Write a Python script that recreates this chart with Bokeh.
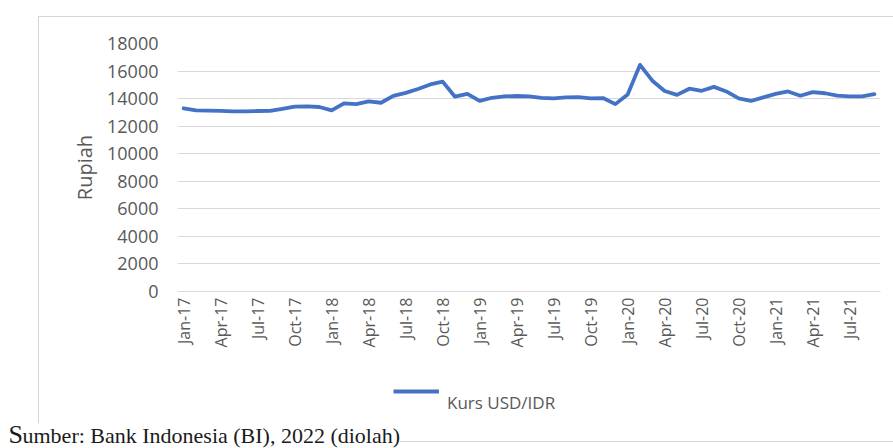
import math
from bokeh.plotting import figure
from bokeh.layouts import column
from bokeh.models import (Range1d, FixedTicker, Legend, LegendItem, Label,
                          ColumnDataSource)
from bokeh.embed import file_html
from bokeh.resources import INLINE

# ---------------- data ----------------
months = [
    "Jan-17", "Feb-17", "Mar-17", "Apr-17", "May-17", "Jun-17",
    "Jul-17", "Aug-17", "Sep-17", "Oct-17", "Nov-17", "Dec-17",
    "Jan-18", "Feb-18", "Mar-18", "Apr-18", "May-18", "Jun-18",
    "Jul-18", "Aug-18", "Sep-18", "Oct-18", "Nov-18", "Dec-18",
    "Jan-19", "Feb-19", "Mar-19", "Apr-19", "May-19", "Jun-19",
    "Jul-19", "Aug-19", "Sep-19", "Oct-19", "Nov-19", "Dec-19",
    "Jan-20", "Feb-20", "Mar-20", "Apr-20", "May-20", "Jun-20",
    "Jul-20", "Aug-20", "Sep-20", "Oct-20", "Nov-20", "Dec-20",
    "Jan-21", "Feb-21", "Mar-21", "Apr-21", "May-21", "Jun-21",
    "Jul-21", "Aug-21", "Sep-21",
]
kurs_usd_idr = [
    13300, 13150, 13130, 13110, 13080, 13080,
    13100, 13110, 13260, 13420, 13440, 13390,
    13150, 13650, 13600, 13800, 13700, 14200,
    14420, 14700, 15030, 15230, 14140, 14340,
    13830, 14060, 14160, 14190, 14160, 14060,
    14010, 14090, 14110, 14010, 14040, 13600,
    14300, 16450, 15300, 14550, 14270, 14720,
    14570, 14850, 14520, 14010, 13830, 14090,
    14340, 14520, 14210, 14470, 14390, 14210,
    14160, 14160, 14320,
]
y_ticks = [0, 2000, 4000, 6000, 8000, 10000, 12000, 14000, 16000, 18000]
label_every = 3
series_name = "Kurs USD/IDR"
y_title = "Rupiah"
note_first = "S"
note_rest = "umber: Bank Indonesia (BI), 2022 (diolah)"

LINE_COLOR = "#4472c4"
TICK_COLOR = "#595959"
GRID_COLOR = "#d9d9d9"

# ---------------- main chart ----------------
idx = list(range(len(months)))
src = ColumnDataSource(data=dict(idx=idx, kurs=kurs_usd_idr, month=months))

W = 893
H_MAIN = 356
H_FOOT = 448 - H_MAIN

p = figure(width=W, height=H_MAIN, output_backend="svg", toolbar_location=None,
           x_range=Range1d(-0.5, len(months) - 0.5),
           y_range=Range1d(y_ticks[0], y_ticks[-1]),
           min_border_left=177, min_border_right=13,
           min_border_top=43, min_border_bottom=H_MAIN - 291,
           frame_align=False,
           stylesheets=[":host { position: relative; }"])
p.outline_line_color = None
p.background_fill_color = "white"
p.border_fill_color = None

p.xgrid.visible = False
p.ygrid.ticker = FixedTicker(ticks=y_ticks)
p.ygrid.grid_line_color = GRID_COLOR
p.ygrid.grid_line_width = 1

ya = p.yaxis[0]
ya.ticker = FixedTicker(ticks=y_ticks)
ya.axis_line_color = None
ya.major_tick_line_color = None
ya.minor_tick_line_color = None
ya.major_tick_out = 0
ya.minor_tick_out = 0
ya.major_label_text_font = "Open Sans"
ya.major_label_text_font_size = "18px"
ya.major_label_text_color = TICK_COLOR
ya.major_label_standoff = 19
ya.axis_label = y_title
ya.axis_label_text_font = "Open Sans"
ya.axis_label_text_font_size = "20px"
ya.axis_label_text_font_style = "normal"
ya.axis_label_text_color = TICK_COLOR
ya.axis_label_standoff = 6

tick_idx = idx[::label_every]
xa = p.xaxis[0]
xa.ticker = FixedTicker(ticks=tick_idx)
xa.major_label_overrides = {i: months[i] for i in tick_idx}
xa.major_label_orientation = math.pi / 2
xa.axis_line_color = GRID_COLOR
xa.major_tick_line_color = None
xa.minor_tick_line_color = None
xa.major_tick_out = 0
xa.minor_tick_out = 0
xa.major_label_text_font = "Open Sans"
xa.major_label_text_font_size = "16px"
xa.major_label_text_color = TICK_COLOR
xa.major_label_standoff = 6

p.line(x="idx", y="kurs", source=src, line_color=LINE_COLOR,
       line_width=3.8, line_join="round", line_cap="round")

# ---------------- footer: legend + source note ----------------
# footer coordinates mirror page pixels (y grows downward)
f = figure(width=W, height=H_FOOT, output_backend="svg", toolbar_location=None,
           x_range=Range1d(0, W), y_range=Range1d(448, H_MAIN),
           x_axis_type=None, y_axis_type=None,
           min_border_left=0, min_border_right=0,
           min_border_top=0, min_border_bottom=0,
           frame_align=False,
           stylesheets=[":host { position: relative; }"])
f.outline_line_color = None
f.background_fill_color = None
f.border_fill_color = None
f.xgrid.visible = False
f.ygrid.visible = False

# same series, drawn in the footer only as the legend's line sample
# (its values lie far outside the footer's y range, so nothing else shows)
sample = f.line(x="idx", y="kurs", source=src, line_color=LINE_COLOR,
                line_width=3.8)
# the legend text sits below the line sample, as in the reference
legend = Legend(items=[LegendItem(label="\n" + series_name, renderers=[sample])],
                location=(393, 17), glyph_width=46, glyph_height=20,
                label_height=80, label_standoff=8, padding=0, margin=0,
                border_line_color=None, background_fill_alpha=0,
                label_text_line_height=2.3,
                label_text_font="Open Sans", label_text_font_size="17px",
                label_text_color=TICK_COLOR)
f.add_layout(legend)

f.add_layout(Label(x=8, y=433.5, text=note_first, text_font="Liberation Serif",
                   text_font_size="26px", text_baseline="middle",
                   text_color="#1a1a1a", background_fill_color="white"))
f.add_layout(Label(x=22, y=435, text=note_rest, text_font="Liberation Serif",
                   text_font_size="22px", text_baseline="middle",
                   text_color="#1a1a1a", background_fill_color="white"))

border_css = """
:host { position: relative; }
:host::before {
  content: ""; position: absolute; left: 38px; top: 16px;
  width: 855px; height: 424px;
  border: 1px solid #d6d6d6; border-right: none;
  pointer-events: none;
}
"""
layout = column(p, f, spacing=0, stylesheets=[border_css])

open("out.html", "w").write(file_html(layout, INLINE))
